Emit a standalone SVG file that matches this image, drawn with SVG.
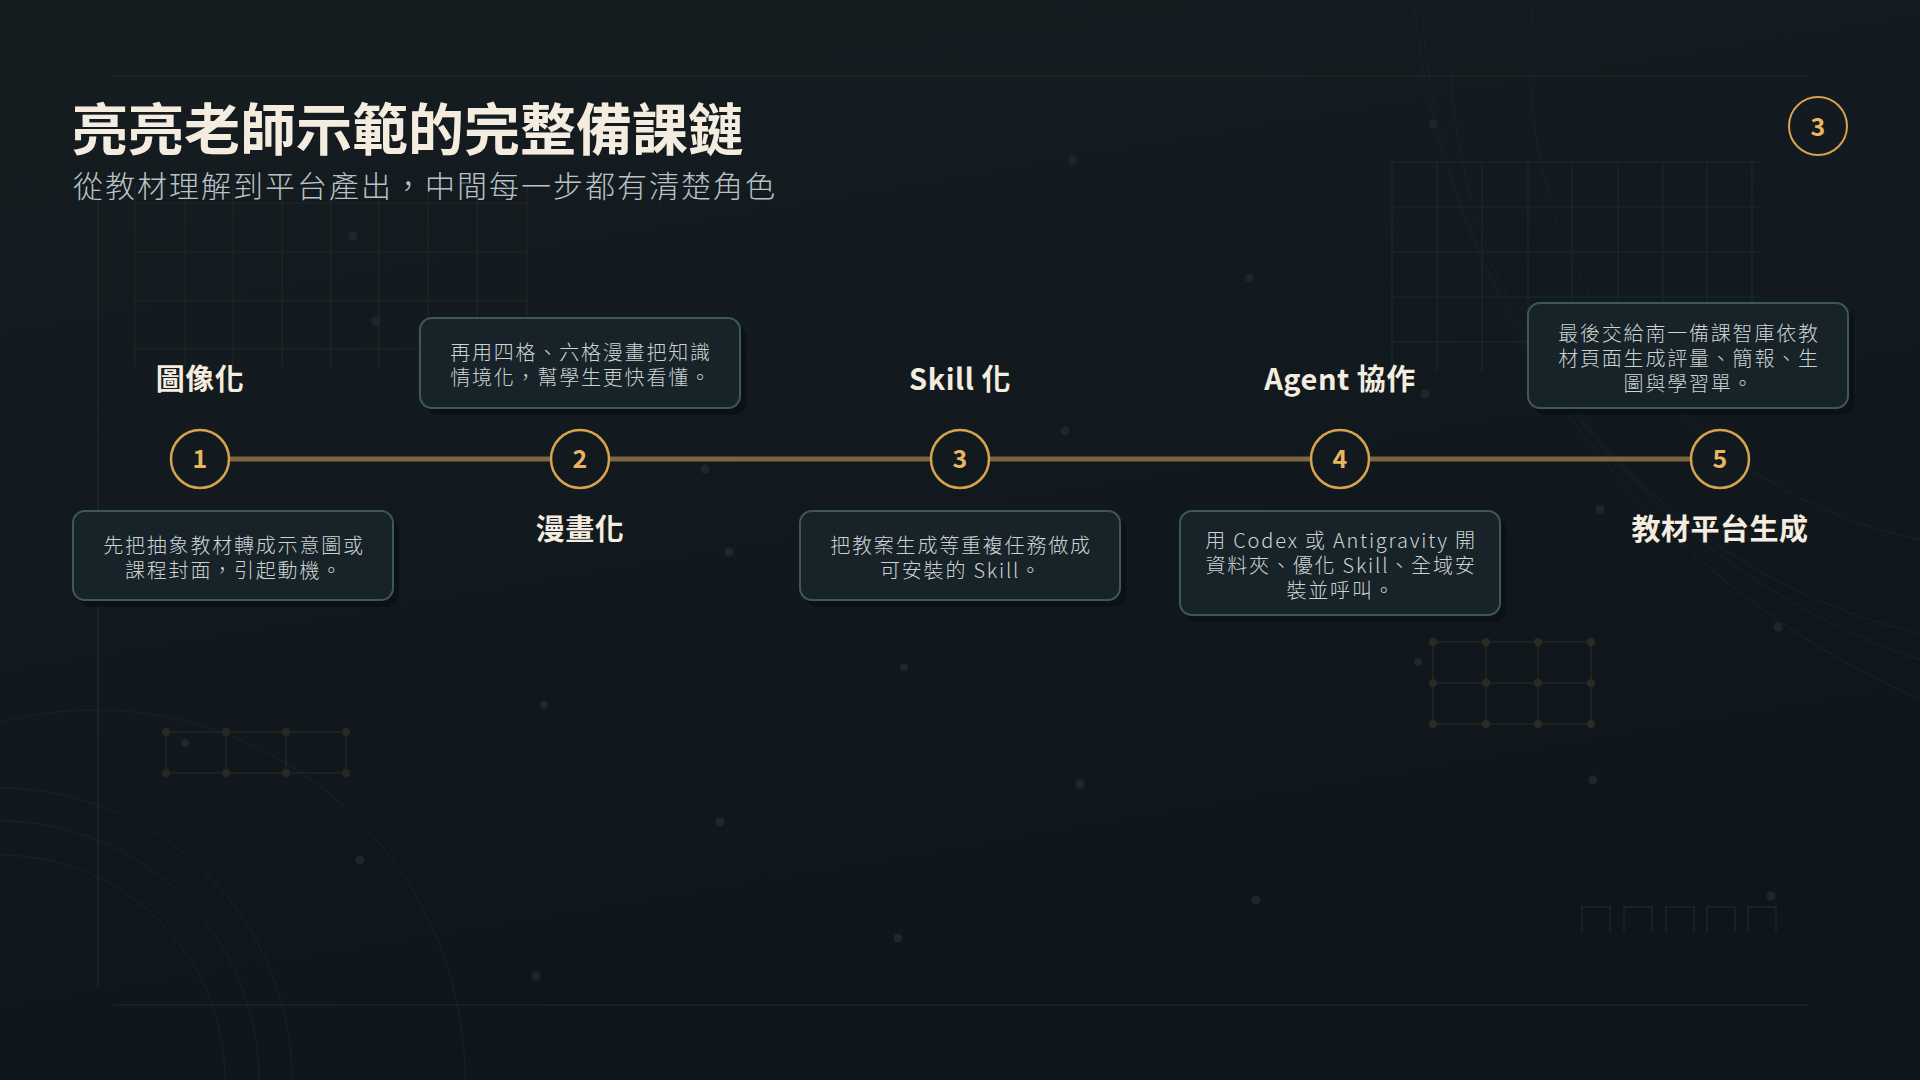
<svg xmlns="http://www.w3.org/2000/svg" width="1920" height="1080" viewBox="0 0 1920 1080">
<defs>
<linearGradient id="bg" x1="0" y1="0" x2="0.3" y2="1">
<stop offset="0" stop-color="#151d21"/>
<stop offset="1" stop-color="#0e161c"/>
</linearGradient>
<style>
.title{font-family:"Noto Sans CJK TC","Noto Sans",sans-serif;font-weight:700;font-size:56px;fill:#f3ecdf}
.sub{font-family:"Noto Sans CJK TC","Noto Sans",sans-serif;font-weight:300;font-size:30px;fill:#b9c2c6;letter-spacing:2px}
.lbl{font-family:"Noto Sans CJK TC","Noto Sans",sans-serif;font-weight:700;font-size:29px;fill:#f3ecdf;text-anchor:middle;letter-spacing:0.5px}
.num{font-family:"Noto Sans CJK TC","Noto Sans",sans-serif;font-weight:700;font-size:25px;fill:#e8b660;text-anchor:middle}
.ring{fill:#121a1f;stroke:#d9a250;stroke-width:2.5}
.card{fill:#172328;stroke:#3e5859;stroke-width:2}
.shadow{fill:#0a1013;opacity:0.85}
.ct{font-family:"Noto Sans CJK TC","Noto Sans",sans-serif;font-weight:300;font-size:20px;fill:#cdd3d4;text-anchor:middle;letter-spacing:1.8px}
.conn{stroke:#7a6540;stroke-width:5;fill:none}
.gridA{stroke:#262a25;stroke-width:1.2;fill:none}
.gridB{stroke:#1b2929;stroke-width:1.2;fill:none}
.arc{stroke:#16242a;stroke-width:1.3;fill:none;opacity:0.75}
.dg{stroke:#2a2922;stroke-width:1.5;fill:none}
.dgd{fill:#302d25}
.dot{fill:#1f272a}
</style>
</defs>
<rect width="1920" height="1080" fill="url(#bg)"/>

<!-- background decoration -->
<g id="background">
<circle class="arc" cx="0" cy="1080" r="292"/>
<circle class="arc" cx="0" cy="1080" r="259"/>
<circle class="arc" cx="0" cy="1080" r="225"/>
<circle class="arc" cx="95" cy="1080" r="370"/>
<circle class="arc" cx="2020" cy="60" r="490"/>
<circle class="arc" cx="2060" cy="40" r="610"/>
<circle class="arc" cx="2160" cy="-40" r="740"/>
<circle class="arc" cx="2260" cy="-80" r="850"/>
<line class="gridA" x1="113" y1="76" x2="1809" y2="76"/>
<line class="gridA" x1="113" y1="1005" x2="1809" y2="1005"/>
<line class="gridA" x1="98" y1="200" x2="98" y2="987"/>
<g class="gridA" opacity="0.8">
<path d="M135 203H527M135 252H527M135 301H527M135 349H527"/>
<path d="M135 185V367M185 185V367M233 185V367M282 185V367M331 185V367M379 185V367M428 185V367M477 185V367M527 185V367"/>
</g>
<g class="gridB">
<path d="M1392 162H1760M1392 207H1760M1392 252H1760M1392 297H1760M1392 342H1760"/>
<path d="M1392 162V372M1437 162V372M1482 162V372M1528 162V372M1572 162V372M1618 162V372M1663 162V372M1707 162V372M1752 162V372"/>
</g>
<g opacity="0.8">
<path class="dg" d="M166 732H346M166 773H346M166 732V773M226 732V773M286 732V773M346 732V773"/>
<g class="dgd">
<circle cx="166" cy="732" r="4"/><circle cx="226" cy="732" r="4"/><circle cx="286" cy="732" r="4"/><circle cx="346" cy="732" r="4"/>
<circle cx="166" cy="773" r="4"/><circle cx="226" cy="773" r="4"/><circle cx="286" cy="773" r="4"/><circle cx="346" cy="773" r="4"/>
</g>
</g>
<g opacity="0.9">
<path class="dg" d="M1433 642H1591M1433 683H1591M1433 724H1591M1433 642V724M1486 642V724M1538 642V724M1591 642V724"/>
<g class="dgd">
<circle cx="1433" cy="642" r="4"/><circle cx="1486" cy="642" r="4"/><circle cx="1538" cy="642" r="4"/><circle cx="1591" cy="642" r="4"/>
<circle cx="1433" cy="683" r="4"/><circle cx="1486" cy="683" r="4"/><circle cx="1538" cy="683" r="4"/><circle cx="1591" cy="683" r="4"/>
<circle cx="1433" cy="724" r="4"/><circle cx="1486" cy="724" r="4"/><circle cx="1538" cy="724" r="4"/><circle cx="1591" cy="724" r="4"/>
</g>
</g>
<path class="dg" opacity="0.8" d="M1582 932V907H1610V932M1624 932V907H1652V932M1666 932V907H1694V932M1707 932V907H1735V932M1748 932V907H1776V932"/>
<g class="dot">
<circle cx="1433" cy="124" r="4.5"/><circle cx="1073" cy="160" r="4.5"/><circle cx="353" cy="236" r="4.5"/>
<circle cx="376" cy="321" r="4.5"/><circle cx="1249" cy="278" r="4"/><circle cx="1065" cy="431" r="4.5"/>
<circle cx="705" cy="469" r="4.5"/><circle cx="729" cy="552" r="4.5"/><circle cx="904" cy="667" r="4"/>
<circle cx="544" cy="705" r="4"/><circle cx="720" cy="822" r="4.5"/><circle cx="360" cy="860" r="4.5"/>
<circle cx="898" cy="938" r="4.5"/><circle cx="536" cy="976" r="4.5"/><circle cx="1080" cy="784" r="4.5"/>
<circle cx="1256" cy="900" r="4.5"/><circle cx="1593" cy="780" r="4.5"/><circle cx="1600" cy="509" r="4.5"/>
<circle cx="1778" cy="627" r="4.5"/><circle cx="1771" cy="896" r="4.5"/><circle cx="1425" cy="394" r="4.5"/>
<circle cx="1418" cy="662" r="4"/><circle cx="185" cy="743" r="4"/>
</g>
</g>

<!-- header -->
<g id="header">
<text class="title" x="72" y="150">亮亮老師示範的完整備課鏈</text>
<text class="sub" x="73" y="197">從教材理解到平台產出，中間每一步都有清楚角色</text>
</g>
<g id="page-number">
<circle cx="1818" cy="126" r="29" fill="none" stroke="#d9a250" stroke-width="2"/>
<text class="num" x="1818" y="135.5" font-size="26">3</text>
</g>

<!-- connectors -->
<g id="connectors">
<line class="conn" x1="230" y1="459" x2="550" y2="459"/>
<line class="conn" x1="610" y1="459" x2="930" y2="459"/>
<line class="conn" x1="990" y1="459" x2="1310" y2="459"/>
<line class="conn" x1="1370" y1="459" x2="1690" y2="459"/>
</g>

<!-- nodes -->
<g id="node-1">
<circle class="ring" cx="200" cy="459" r="29"/>
<text class="num" x="200" y="468">1</text>
<text class="lbl" x="200" y="390">圖像化</text>
<rect class="shadow" x="79" y="518" width="320" height="89" rx="12"/>
<rect class="card" x="73" y="511" width="320" height="89" rx="12"/>
<text class="ct" x="234" y="553">先把抽象教材轉成示意圖或</text>
<text class="ct" x="234" y="578">課程封面，引起動機。</text>
</g>

<g id="node-2">
<circle class="ring" cx="580" cy="459" r="29"/>
<text class="num" x="580" y="468">2</text>
<text class="lbl" x="580" y="540">漫畫化</text>
<rect class="shadow" x="426" y="325" width="320" height="90" rx="12"/>
<rect class="card" x="420" y="318" width="320" height="90" rx="12"/>
<text class="ct" x="581" y="360">再用四格、六格漫畫把知識</text>
<text class="ct" x="581" y="385">情境化，幫學生更快看懂。</text>
</g>

<g id="node-3">
<circle class="ring" cx="960" cy="459" r="29"/>
<text class="num" x="960" y="468">3</text>
<text class="lbl" x="960" y="390">Skill 化</text>
<rect class="shadow" x="806" y="518" width="320" height="89" rx="12"/>
<rect class="card" x="800" y="511" width="320" height="89" rx="12"/>
<text class="ct" x="961" y="553">把教案生成等重複任務做成</text>
<text class="ct" x="961" y="578">可安裝的 Skill。</text>
</g>

<g id="node-4">
<circle class="ring" cx="1340" cy="459" r="29"/>
<text class="num" x="1340" y="468">4</text>
<text class="lbl" x="1340" y="390">Agent 協作</text>
<rect class="shadow" x="1186" y="518" width="320" height="104" rx="12"/>
<rect class="card" x="1180" y="511" width="320" height="104" rx="12"/>
<text class="ct" x="1341" y="548">用 Codex 或 Antigravity 開</text>
<text class="ct" x="1341" y="573">資料夾、優化 Skill、全域安</text>
<text class="ct" x="1341" y="598">裝並呼叫。</text>
</g>

<g id="node-5">
<circle class="ring" cx="1720" cy="459" r="29"/>
<text class="num" x="1720" y="468">5</text>
<text class="lbl" x="1720" y="540">教材平台生成</text>
<rect class="shadow" x="1534" y="310" width="320" height="105" rx="12"/>
<rect class="card" x="1528" y="303" width="320" height="105" rx="12"/>
<text class="ct" x="1689" y="341">最後交給南一備課智庫依教</text>
<text class="ct" x="1689" y="366">材頁面生成評量、簡報、生</text>
<text class="ct" x="1689" y="391">圖與學習單。</text>
</g>
</svg>
